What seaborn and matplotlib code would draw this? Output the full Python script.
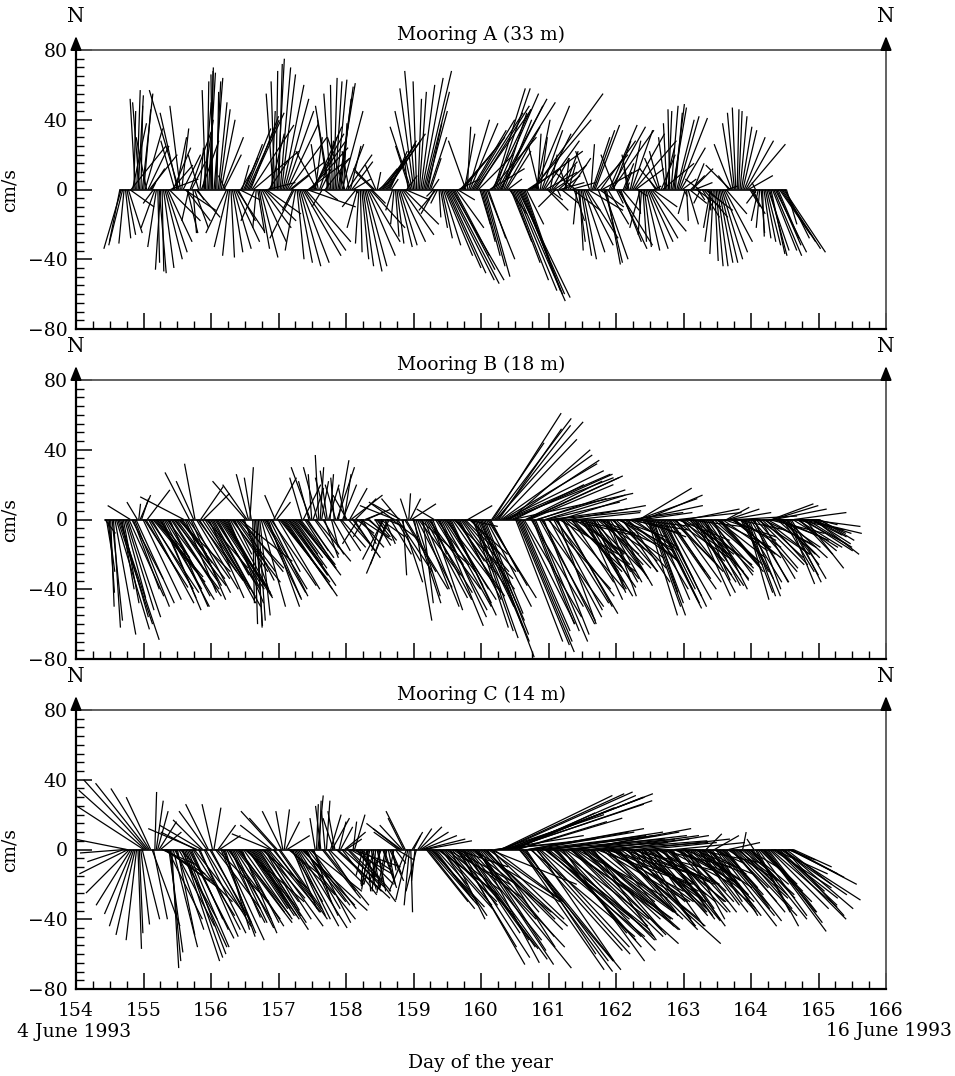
import numpy as np
import pandas as pd
import seaborn as sns
import matplotlib
matplotlib.use("Agg")
import matplotlib.pyplot as plt
from matplotlib.ticker import MultipleLocator

# current vectors (cm/s): u = east, v = north
# hourly samples from start_x, plus the half-hour samples in between
start_a = 154.65
u_a = [-6, -8, 3, 8, 20, 1, 2, -4, 6, 10, 12, 8,
       -6, -5, 4, 1, 10, 14, 16, 10, 6, -17, 4, 18,
       6, 12, 2, 14, -6, 10, 4, 1, 2, -1, 3, 5,
       8, 10, -12, -4, 6, 14, 10, 6, 8, 14, 20, 24,
       -8, 4, 10, 16, 20, 12, 2, -2, 4, 6, 12, 16,
       22, 10, -14, 4, 12, 22, 26, 24, 20, 16, -12, 10,
       -6, 14, -6, -4, 2, 6, 8, 12, -10, 14, 6, 10,
       -8, -2, 4, 10, 16, 20, -10, -6, 8, 14, 18, 22,
       10, -4, 2, 8, 14, 20, 6, -8, -10, -6, 2, 8,
       16, 12, 10, 4, -8, -4, 4, 10, 20, 26, 30, 20,
       10, 16, 24, -10, 12, 20, 28, 30, 6, 10, 14, 10,
       26, 18, 24, 32, 14, 20, 8, 12, 20, 28, 26, 22,
       14, 6, 30, 40, 8, -6, 12, 20, 12, 4, 14, -10,
       16, 10, 8, -4, 12, 16, -12, 4, 6, 12, 18, -8,
       10, 14, 10, 20, 14, 8, 16, 24, -8, 20, 12, 6,
       2, -4, 12, 24, 6, -6, 2, 8, 14, 20, 4, -10,
       -6, 18, -4, 2, 4, 6, 10, 16, 8, -4, 6, 8,
       6, 14, -8, 10, 16, 4, -4, -2, 4, 8, 12, 16,
       6, -14, -6, -2, 2, 6, 12, 22, 6, 3, -2, -4,
       2, 4, 8, 10, 14, 18, 12, 20, 24, 6]
v_a = [-30, -32, -28, -25, 25, 45, 57, 50, 55, 35, 25, 12,
       -8, -33, -48, -47, -40, -30, 6, 24, 30, 57, 35, -12,
       -25, 33, -25, -16, 20, 28, 50, 62, 70, 66, 62, 50,
       40, 20, -25, -38, -36, -30, -18, 10, 18, 35, 44, 37,
       -18, -25, -39, -22, -14, 18, 45, 62, 75, 70, 60, 45,
       30, 8, -28, -40, -44, -38, -30, 18, 28, 36, 22, 30,
       -10, 18, 40, 55, 64, 63, 59, 45, 30, 20, 25, 6,
       -10, -31, -40, -47, -38, -22, 10, 14, 6, 16, 26, 32,
       22, -12, -27, -33, -30, -20, 8, 25, 45, 68, 52, 60,
       68, 45, 30, 6, -14, -8, -22, -32, -45, -52, -52, -38,
       -6, 18, 30, 28, 40, 34, 44, 48, -20, -38, -50, -28,
       30, 58, 55, 50, 44, 36, 6, -30, -52, -64, -60, -58,
       -40, 4, 22, 55, 40, 25, 34, 28, -12, 20, 16, -10,
       14, -8, 22, 12, 18, -12, 10, -30, -38, -36, -28, 22,
       30, 37, -25, 28, -40, -43, 37, 34, 20, -32, -30, 15,
       4, 20, 34, 28, -4, -22, -30, -35, -30, -24, 2, 12,
       22, 15, 30, 45, 48, 49, 40, 41, 6, -14, -20, 8,
       15, -10, 6, -16, -12, -4, -22, -37, -44, -42, -40, -30,
       2, 14, 38, 47, 45, 36, 30, 26, -10, -6, 4, -18,
       -25, -28, -32, -38, -35, -36, -28, -30, -36, -20]
u_a_half = [-10, -3, 5, 14, 8, -3, 3, 1, 4, -6, 16, 2,
            -8, 1, -3, 6, 12, 18, 12, -8, -10, -6, 10, 14,
            -4, 8, 8, 4, 2, 6, -2, 4, 1, 5, 1, 6,
            12, -4, -8, 2, 10, 16, 12, 4, 10, 18, 16, 26,
            -2, 6, 14, 18, 16, 8, -4, 1, 2, 8, 14, 18,
            20, -6, -6, 8, 16, 24, 28, 22, 18, 4, -4, 6,
            8, 4, -8, -1, 4, 10, 6, 2, 10, -4, 12, 2,
            -6, 1, 6, 12, 18, 8, -12, 2, 10, 16, 20, 16,
            4, -2, 4, 10, 18, 14, -2, -12, -8, -2, 4, 12,
            14, 8, 6, -4, -10, 1, 6, 16, 22, 28, 24, 16,
            12, 20, 6, 2, 16, 24, 32, 20, 8, 12, 16, 20,
            22, 20, 28, 24, 16, 14, 10, 16, 24, 30, 24, 18,
            10, 18, 34, 20, 2, 4, 16, 18, 8, 10, 6, 2,
            14, 10, 2, 4, 14, 6, -2, 2, 8, 16, 20, 2,
            12, 18, 14, 22, 10, 12, 20, 10, 4, 16, 10, 4,
            -2, 6, 18, 16, 1, -2, 4, 12, 16, 14, -4, -8,
            8, 6, -2, -1, 8, 4, 12, 14, 2, 1, 10, 12,
            10, 4, -4, 14, 10, 1, -4, 2, 6, 10, 14, 12,
            -6, -10, -4, 1, 4, 8, 16, 14, 8, 1, -6, -2,
            1, 6, 12, 8, 16, 14, 18, 22, 14]
v_a_half = [-34, -31, -26, -10, 38, 52, 54, 48, 46, 30, 20, 4,
            -22, -42, -46, -45, -36, -18, 14, 28, 44, 48, 20, -18,
            -18, 16, -22, -6, 24, 40, 57, 67, 68, 64, 56, 46,
            30, 8, -33, -39, -34, -24, -6, 14, 26, 40, 42, 22,
            -22, -34, -30, -18, 4, 32, 55, 68, 72, 66, 52, 38,
            16, -12, -35, -42, -42, -35, -10, 24, 32, 30, 26, 12,
            -6, 28, 48, 60, 62, 61, 52, 38, 26, 22, 16, -2,
            -22, -36, -44, -44, -30, -8, 12, 10, 12, 22, 28, 28,
            6, -20, -31, -32, -26, -6, 16, 36, 58, 62, 56, 64,
            56, 38, 18, -4, -12, -16, -28, -38, -48, -54, -46, -22,
            6, 24, 32, 36, 38, 40, 46, 20, -30, -44, -40, 12,
            46, 58, 52, 48, 40, 22, -14, -42, -58, -62, -60, -50,
            -20, 12, 40, 48, 32, 30, 32, 10, -6, 18, 4, -4,
            4, 8, 18, 14, 4, -18, -20, -35, -40, -32, -12, 26,
            34, 20, -10, 12, -42, -20, 36, 28, -8, -34, -12, 10,
            12, 28, 32, 12, -14, -26, -33, -34, -28, -10, 6, 18,
            20, 24, 38, 46, 47, 44, 42, 24, -4, -18, -8, 12,
            4, -6, -8, -16, -8, -12, -30, -41, -44, -42, -36, -14,
            8, 26, 44, 46, 42, 34, 28, 8, -14, -2, -8, -22,
            -27, -30, -35, -37, -38, -32, -26, -34, -28]

start_b = 154.43
u_b = [6, 4, 2, 4, 19, 23, 7, 12, 19, -13, 15, 22,
       1, 4, 25, 13, 28, 30, 24, 18, 20, 26, 30, 22,
       28, 24, 30, 18, -25, 20, -14, 22, -6, 26, 13, 15,
       24, 20, 28, 26, 18, 30, 24, 16, 20, 28, 10, 22,
       30, 18, -19, -7, -4, 2, 3, 6, 22, 24, 18, 26,
       13, 8, 29, 22, 30, 20, 26, 14, 19, 24, -7, 18,
       12, -11, 6, 20, -2, 4, 8, -4, 2, 10, -6, 6,
       14, 4, -8, 10, 16, 12, -9, 18, -6, 14, 8, np.nan,
       9, 4, 14, -12, 10, -13, 16, -20, 20, -16, 2, 24,
       1, 14, 10, 20, 28, 6, 24, 30, 18, -10, 22, 25,
       28, 32, 20, 26, 34, 16, 24, 30, 20, 14, 26, 20,
       24, 26, 30, 22, 28, 16, 39, 50, 36, 52, 57, 61,
       46, 69, 27, 32, 28, 33, 55, 48, 24, 30, 50, 36,
       26, 42, 30, 51, 34, 22, 38, 28, 40, 44, 24, 30,
       36, 22, 27, 21, 27, 30, 18, 24, 32, 20, 26, 16,
       30, 22, 28, 34, 20, 36, 24, 30, 26, 38, 30, 22,
       33, 17, 20, 14, 26, 22, 18, 24, 28, 20, 32, 26,
       36, 22, 28, 30, 24, 34, 20, 26, 30, 15, 24, 28,
       20, 32, 26, 22, 30, 13, 24, 28, 20, 34, 16, 22,
       13, 18, 26, 15, 30, 20, 28, 24, 32, 24, 30, 22,
       28, 18, 24, 15, 20, 30, 26, 19, 34, 22, 30, 18,
       26, 12, 20]
v_b = [-8, -30, -50, -62, -63, -69, -40, -45, -56, 8, -40, -48,
       9, 12, -39, 17, -42, -36, -30, -22, -45, -50, -40, -50,
       -44, -35, -30, -25, 13, -38, 27, -42, 32, -35, 19, 15,
       -28, -45, -50, -40, -32, -45, -38, -28, -48, -36, -20, -30,
       -24, -35, 22, 26, 24, -60, -62, -55, -45, -40, -50, -38,
       24, 10, -36, -30, -44, -26, -38, -20, -23, -32, 24, -28,
       -18, 30, 18, -24, 37, 22, -22, 28, 26, -18, 20, 34,
       -16, 26, 14, 18, -22, 12, -14, -12, -10, 6, -8, np.nan,
       -15, -6, -10, -23, -4, -31, -12, 8, -30, 9, -32, -40,
       15, 9, -58, -39, -26, -48, -45, -40, -52, 6, -30, -61,
       -50, -42, -38, -55, -34, -24, -46, -40, -20, 8, -30, -62,
       -68, -58, -79, -54, -45, -30, 61, 56, 52, 37, 28, 24,
       40, 15, -70, -76, -64, -56, 25, 20, -60, -70, 17, -50,
       -66, 10, -56, 5, -44, -60, 12, -50, -30, 8, -36, -20,
       4, -30, -26, -46, -39, -30, -42, -20, -14, -36, -28, -44,
       -22, -38, -10, -24, -30, -6, -36, 4, -18, 8, 18, -26,
       14, -55, -55, -42, -51, -46, -34, -50, -40, -30, -22, -36,
       4, -28, -18, 6, -32, -26, -44, -38, -30, -35, -35, -24,
       -40, -16, -30, -26, -10, 7, 4, -22, -18, 2, -30, -36,
       -46, -44, -30, -40, -20, -34, -14, -26, -8, 9, 6, -20,
       -12, -30, -22, -37, -34, 4, -16, -20, -8, -28, -4, -9,
       -20, -3, -12]
u_b_half = [3, 3, 6, 12, 20, 16, 9, 16, 20, 18, 20, -6,
            6, 22, 18, 26, 24, 28, 20, 24, 22, 28, 24, 26,
            30, 22, 26, 14, 18, 24, 20, -10, 24, 18, 20, 26,
            22, 26, 24, 22, 26, 28, 20, 18, 24, 20, 18, 26,
            24, 14, -14, 2, 1, 4, 4, 14, 24, 20, 22, 16,
            -6, 24, 26, 28, 24, 22, 20, 16, 22, 20, 10, 16,
            -6, -2, 14, -8, 2, 12, -6, 6, 4, -2, 10, 12,
            8, -4, 14, 18, 12, 10, 14, 8, 10, 12, np.nan, np.nan,
            8, 10, -6, 6, -10, 12, -14, 14, -10, 12, 18, -4,
            6, 16, 14, 24, 16, 20, 26, 24, 8, 16, 28, 26,
            30, 24, 24, 30, 22, 20, 28, 26, 18, 22, 24, 22,
            26, 28, 26, 26, 22, 30, 44, 42, 44, 54, 60, 52,
            58, 40, 30, 30, 30, 44, 52, 30, 26, 40, 32, 30,
            46, 36, 44, 28, 30, 34, 32, 34, 42, 30, 28, 34,
            26, 24, 24, 26, 28, 22, 20, 28, 24, 24, 20, 22,
            26, 24, 30, 26, 28, 30, 28, 28, 32, 34, 26, 28,
            24, 18, 18, 20, 24, 20, 22, 26, 24, 26, 28, 30,
            28, 24, 32, 26, 30, 24, 22, 28, 22, 20, 26, 24,
            28, 28, 24, 26, 20, 18, 26, 24, 28, 24, 18, 16,
            16, 22, 20, 24, 26, 24, 26, 28, 28, 26, 26, 24,
            22, 20, 18, 18, 26, 28, 22, 26, 28, 26, 24, 22,
            18, 16]
v_b_half = [-18, -42, -58, -66, -60, -56, -48, -52, -44, -34, -50, 10,
            14, -46, -30, -48, -40, -33, -26, -40, -52, -46, -44, -40,
            -38, -30, -34, -20, -42, -34, -46, 22, -40, -28, -30, -40,
            -36, -48, -44, -36, -40, -42, -34, -38, -44, -30, -26, -28,
            -30, -40, 20, 30, -48, -61, -58, -50, -42, -46, -44, -30,
            14, -40, -34, -40, -32, -32, -28, -22, -28, -26, 20, -22,
            22, 26, -20, 30, 30, -20, 24, 20, -16, 24, 30, -18,
            20, 18, -16, 14, -18, -8, -16, -14, 4, -10, np.nan, np.nan,
            -10, -12, -18, -14, -26, -20, 10, -24, 12, -36, -30, 12,
            12, -48, -44, -32, -40, -50, -42, -46, -20, -26, -52, -56,
            -46, -40, -48, -44, -30, -36, -42, -30, -4, -20, -50, -64,
            -62, -70, -66, -50, -38, 44, 58, 54, 46, 32, 26, 34,
            26, 20, -72, -70, -60, 22, 24, -50, -64, 12, -58, -60,
            14, -40, 6, -52, -48, -20, -54, -40, -10, -28, -30, -8,
            -20, -36, -40, -44, -34, -36, -30, -18, -26, -32, -36, -34,
            -30, -24, -16, -28, -18, -24, -16, -8, -4, 12, -10, 4,
            -40, -50, -48, -46, -48, -40, -44, -46, -34, -26, -30, -12,
            -20, -24, -4, -20, -30, -36, -42, -34, -32, -38, -28, -32,
            -26, -22, -28, -18, 0, 6, -12, -20, -6, -16, -34, -42,
            -44, -36, -36, -28, -26, -22, -20, -16, 0, 8, -10, -16,
            -22, -26, -32, -36, -16, -6, -18, -14, -18, -16, -8, -14,
            -10, -8]

start_c = 154.71
u_c = [-21, -30, -25, -16, -11, 2, 5, -40, -36, -22, 16, 1,
       6, 12, 24, 30, 8, 4, 23, 10, 30, 21, 23, 26,
       18, 28, -28, 22, -17, 26, -13, 20, 4, 30, 12, 24,
       14, 30, 17, 23, 32, 26, 20, 34, 23, 28, 18, 30,
       24, 26, 20, 32, -22, 24, -20, 28, -11, 3, 13, 26,
       14, 20, 28, 38, 24, 18, 30, 22, -3, 3, -3, 26,
       2, 20, 10, -4, 30, 7, 24, 9, 16, 28, 6, 22,
       18, -4, 6, -4, 2, -6, 5, -3, 8, -5, 4, 6,
       -2, 10, -19, -13, -11, -7, 1, 4, -6, 13, 20, 27,
       27, 31, 23, 18, 34, 26, 30, 36, 20, 40, 30, 38,
       44, 32, 46, 38, 50, 55, 35, 42, 48, 30, 50, 36,
       44, 56, 64, 74, 84, 82, 71, 46, 60, 48, 56, 40,
       66, 52, 64, 44, 60, 70, 48, 58, 64, 50, 40, 62,
       47, 56, 68, 44, 60, 52, 64, 48, 40, 58, 46, 36,
       54, 62, 42, 50, 38, 56, 44, 60, 34, 50, 40, 28,
       48, 36, 54, 30, 44, 29, 40, 31, 36, 27, 42, 34,
       28, 38, 32, 24, 40, 30, 26, 36, 22, 34, 28, 40,
       24, 32, 26, 9, 30, 22, 14, 34, 28, 20, 32, 18,
       26, 36, 24, 30, 2, 28, 20, 32, -4, 24, 30, 20,
       35, 28, 38, 31, 40, 26, 45, 34, 16, 38, 22]
v_c = [-7, 6, -25, -37, -49, -57, -43, 26, 40, 35, -44, 33,
       22, 10, -14, -22, -59, -68, -44, -49, -30, -64, -60, -51,
       -40, -36, 12, -50, 17, -44, 26, -38, 24, -30, 8, -52,
       -46, -40, -39, -45, -42, -36, -48, -30, -34, -40, -28, -46,
       -38, -22, -35, -44, 9, -30, 22, -40, 22, 23, 8, -26,
       -34, -40, -45, -35, -30, -38, -24, -42, 18, 31, 25, -32,
       28, -20, 18, 22, -28, 13, -22, 6, -16, -10, 20, -30,
       -12, -15, -23, -23, -18, -20, -24, -16, -22, -25, -20, -14,
       -10, -6, 15, 14, 22, -29, -36, 8, -24, 13, 8, 5,
       -34, -33, -29, -20, -26, -38, -30, -20, -40, -28, -10, -66,
       -57, -48, -63, -40, -30, -68, -65, -50, -44, -36, -20, -56,
       4, 6, 31, 33, 32, 28, 31, 21, 18, -69, -69, -60,
       12, -58, 8, -64, -50, 6, -40, -46, 10, -56, -48, 4,
       -64, -36, 8, -44, -54, -28, 12, -49, -30, 6, -40, -52,
       -20, 5, -36, -14, -44, 4, -30, -54, -38, 8, -24, -36,
       -12, -44, 6, -40, -20, -44, 4, -44, -30, -28, -10, -41,
       -38, -20, -44, -34, 4, -36, -24, -14, -40, -30, -18, -8,
       -32, -36, -26, 9, -38, -28, 8, -44, -32, -22, -41, 4,
       -30, -38, -18, -34, 10, -26, -12, -40, 6, -44, -30, -20,
       -47, -36, -33, -14, -40, -24, -29, -38, -6, -20, -10]
u_c_half = [-26, -28, -20, -14, -6, 2, 10, -38, -30, -14, 8, 4,
            10, 18, 26, 20, 6, 14, 16, 22, 26, 22, 24, 22,
            24, -20, 24, -24, 24, -16, 24, -6, 26, 10, 20, 18,
            22, 24, 20, 28, 30, 22, 28, 28, 26, 22, 24, 28,
            22, 24, 26, 30, -18, 26, -16, 24, -4, 8, 20, 18,
            18, 24, 32, 30, 20, 24, 26, 10, 1, 1, 22, -2,
            16, 6, -6, 26, 4, 20, 12, 18, 24, 2, 20, 20,
            4, -2, 2, -5, 4, -2, 3, -7, 6, -4, 8, 2,
            6, -14, -16, -9, -10, -3, 6, -2, 8, 16, 24, 24,
            28, 26, 20, 30, 30, 28, 32, 28, 34, 36, 34, 40,
            38, 40, 42, 46, 52, 44, 38, 46, 40, 40, 42, 40,
            50, 60, 70, 80, 78, 76, 58, 52, 54, 52, 48, 58,
            60, 58, 54, 52, 66, 56, 54, 60, 58, 46, 52, 54,
            52, 62, 56, 52, 56, 58, 56, 44, 50, 52, 40, 46,
            58, 50, 46, 44, 48, 50, 52, 46, 42, 46, 34, 40,
            42, 46, 40, 38, 36, 36, 34, 32, 30, 36, 38, 30,
            34, 34, 28, 32, 36, 28, 32, 28, 28, 30, 34, 32,
            28, 30, 18, 20, 26, 18, 24, 32, 24, 26, 26, 22,
            30, 30, 28, 16, 16, 24, 26, 14, 20, 28, 24, 30,
            32, 34, 34, 36, 34, 38, 40, 26, 28, 30]
v_c_half = [-2, -14, -32, -44, -52, -48, -40, 34, 38, 30, -40, 28,
            16, -8, -18, -40, -64, -56, -46, -40, -56, -62, -56, -46,
            -38, 10, -46, 14, -48, 22, -42, 26, -34, 14, -48, -50,
            -42, -40, -42, -44, -38, -42, -40, -32, -38, -34, -38, -42,
            -30, -28, -40, -36, 14, -36, 18, -34, 22, 16, -16, -30,
            -38, -44, -40, -32, -34, -32, -34, -30, 26, 28, -28, 22,
            -24, 20, 18, -24, 16, -26, 10, -20, -14, 16, -24, -20,
            -10, -20, -24, -21, -22, -24, -20, -19, -18, -22, -18, -12,
            -8, 10, 12, 18, -24, -32, 10, -18, 12, 10, 6, -30,
            -32, -30, -26, -22, -34, -32, -24, -32, -36, -20, -56, -62,
            -52, -56, -52, -36, -56, -66, -58, -46, -40, -28, -40, -30,
            8, 20, 32, 30, 26, 30, 24, 16, -64, -70, -64, 10,
            -50, 10, -60, -56, 8, -44, -50, 8, -50, -52, -40, -58,
            -52, 6, -40, -50, -40, 10, -46, -40, -36, -46, -46, -36,
            8, -30, -24, -40, -20, -40, -44, -46, -30, -16, -30, -24,
            -30, -20, -34, -30, -36, -18, -38, -36, -26, -20, -30, -40,
            -30, -36, -40, -14, -20, -30, -20, -30, -36, -24, -14, -22,
            -36, -30, -10, -30, -34, -8, -38, -38, -26, -34, -16, -22,
            -36, -28, -26, -12, -18, -20, -28, -18, -36, -38, -24, -36,
            -42, -34, -22, -28, -32, -26, -34, -20, -14, -16]

moorings = ["Mooring A (33 m)", "Mooring B (18 m)", "Mooring C (14 m)"]
starts = [start_a, start_b, start_c]
series = [(u_a, v_a, u_a_half, v_a_half),
          (u_b, v_b, u_b_half, v_b_half),
          (u_c, v_c, u_c_half, v_c_half)]


def mooring_frame(t0, u, v, uh, vh):
    hourly = pd.DataFrame({"u": u, "v": v})
    hourly["day"] = t0 + np.arange(len(hourly)) / 24.0
    half = pd.DataFrame({"u": uh, "v": vh})
    half["day"] = t0 + (np.arange(len(half)) + 0.5) / 24.0
    df = pd.concat([hourly, half]).sort_values("day").reset_index(drop=True)
    df["base"] = np.where(df["v"].isna(), np.nan, 0.0)
    return df


sns.set_theme(style="ticks")
plt.rcParams["font.family"] = ["DejaVu Serif"]
plt.rcParams["axes.unicode_minus"] = True
plt.rcParams["text.color"] = "black"
plt.rcParams["axes.labelcolor"] = "black"

fig = plt.figure(figsize=(9.55, 10.76), dpi=100)
W, H = 955.0, 1076.0
ax_left, ax_w, ax_h = 76 / W, 810 / W, 279 / H
tops = [50, 380, 710]
fs = 13.5

for k, (name, t0, (u, v, uh, vh)) in enumerate(zip(moorings, starts, series)):
    top = tops[k]
    ax = fig.add_axes([ax_left, 1 - (top + 279) / H, ax_w, ax_h])
    df = mooring_frame(t0, u, v, uh, vh)

    # baseline (breaks where data are missing)
    ax.plot(df["day"], df["base"], color="black", lw=1.2, zorder=2)
    ok = df.dropna()
    ax.quiver(ok["day"], ok["base"], ok["u"], ok["v"], angles="uv",
              scale_units="y", scale=1, units="dots", width=1.25,
              headwidth=0, headlength=0, headaxislength=0, pivot="tail",
              color="black", zorder=3)

    ax.set_xlim(154, 166)
    ax.set_ylim(-80, 80)
    ax.set_facecolor("white")
    ax.xaxis.set_major_locator(MultipleLocator(1))
    ax.xaxis.set_minor_locator(MultipleLocator(0.25))
    ax.yaxis.set_major_locator(MultipleLocator(40))
    ax.yaxis.set_minor_locator(MultipleLocator(5))
    ax.tick_params(which="major", direction="in", length=11.5, width=1.1,
                   labelsize=fs, pad=6, colors="black",
                   top=False, right=False)
    ax.tick_params(which="minor", direction="in", length=6, width=1.0,
                   top=False, right=False, colors="black")
    ax.tick_params(axis="x", pad=9, labelbottom=(k == 2))
    for s in ["left", "bottom"]:
        ax.spines[s].set_color("black")
        ax.spines[s].set_linewidth(1.6)
    for s in ["top", "right"]:
        ax.spines[s].set_color("#555555")
        ax.spines[s].set_linewidth(1.3)

    ax.set_ylabel("cm/s", fontsize=fs)
    ax.yaxis.set_label_coords(-(76 - 19) / 810, 0.5)
    ax.text(0.5, 1 + 15 / 279, name, transform=ax.transAxes, ha="center",
            va="center", fontsize=fs)

    # north arrows at both ends
    for xf in [0, 1]:
        ax.annotate("", xy=(xf, 1 + 14 / 279), xytext=(xf, 1.0),
                    xycoords="axes fraction", annotation_clip=False,
                    arrowprops=dict(arrowstyle="-|>,head_length=0.7,head_width=0.28",
                                    color="black", lw=1.3, shrinkA=0, shrinkB=0))
        ax.text(xf, 1 + 34 / 279, "N", transform=ax.transAxes, ha="center",
                va="center", fontsize=fs + 1)

fig.text(17 / W, 1 - 1032 / H, "4 June 1993", ha="left", va="center", fontsize=fs)
fig.text(952 / W, 1 - 1031 / H, "16 June 1993", ha="right", va="center", fontsize=fs)
fig.text(480 / W, 1 - 1063 / H, "Day of the year", ha="center", va="center", fontsize=fs)

fig.savefig("out.png", dpi=100, facecolor="white")
